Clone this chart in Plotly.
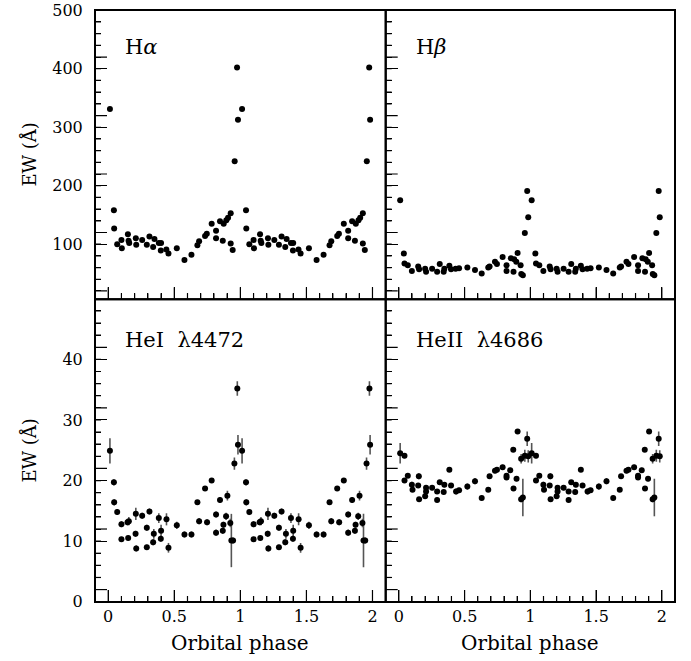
import plotly.graph_objects as go

# ---------------- data (phase 0-1; plotted twice, at phase and phase+1) ----------------
ha_phase = [0.013, 0.043, 0.045, 0.068, 0.100, 0.103, 0.149, 0.154, 0.159, 0.209, 0.212,
            0.257, 0.292, 0.312, 0.340, 0.350, 0.383, 0.398, 0.400, 0.440, 0.456, 0.519,
            0.577, 0.630, 0.675, 0.688, 0.733, 0.746, 0.783, 0.816, 0.816, 0.846, 0.867,
            0.874, 0.894, 0.907, 0.927, 0.927, 0.942, 0.957, 0.975, 0.982]
ha_ew = [331, 158, 127, 100, 107, 93, 117, 106, 102, 110, 99,
         107, 99, 113, 95, 109, 102, 89, 102, 91, 84, 93,
         73, 82, 98, 105, 114, 118, 135, 123, 110, 139, 106,
         135, 141, 145, 153, 101, 90, 242, 402, 313]

hb_phase = [0.010, 0.038, 0.043, 0.068, 0.099, 0.147, 0.154, 0.200, 0.207, 0.253, 0.291,
            0.311, 0.341, 0.346, 0.384, 0.397, 0.432, 0.458, 0.521, 0.579, 0.630, 0.680,
            0.690, 0.731, 0.746, 0.789, 0.819, 0.819, 0.852, 0.872, 0.877, 0.893, 0.903,
            0.926, 0.931, 0.943, 0.958, 0.976, 0.984]
hb_ew = [175, 84, 67, 64, 54, 62, 57, 58, 53, 58, 53,
         66, 53, 58, 63, 57, 58, 59, 60, 56, 50, 60,
         62, 70, 66, 78, 64, 54, 76, 53, 74, 70, 85,
         64, 49, 47, 119, 191, 146]

hei_phase = [0.013, 0.043, 0.045, 0.068, 0.100, 0.100, 0.146, 0.151, 0.156, 0.207, 0.209,
             0.212, 0.257, 0.292, 0.292, 0.312, 0.340, 0.345, 0.383, 0.398, 0.400, 0.441,
             0.456, 0.519, 0.577, 0.630, 0.675, 0.688, 0.733, 0.748, 0.783, 0.816, 0.816,
             0.846, 0.867, 0.872, 0.892, 0.902, 0.924, 0.932, 0.945, 0.955, 0.977, 0.982]
hei_ew = [24.9, 19.7, 16.4, 14.8, 12.8, 10.3, 13.1, 10.5, 13.3, 11.2, 14.5,
          8.8, 14.2, 12.2, 9.0, 14.9, 9.8, 11.2, 13.8, 10.4, 11.7, 13.6,
          8.9, 12.6, 11.1, 11.1, 16.4, 13.3, 18.7, 13.1, 20.0, 14.4, 11.4,
          16.8, 11.7, 12.7, 14.1, 17.5, 13.0, 10.1, 10.1, 22.8, 35.2, 25.9]
hei_err = [2.1, 0.5, 0.5, 0.5, 0.5, 0.4, 0.5, 0.4, 0.7, 0.5, 1.0,
           0.5, 0.5, 0.5, 0.4, 0.5, 0.5, 0.8, 0.8, 0.5, 1.0, 1.0,
           0.8, 0.6, 0.5, 0.5, 0.4, 0.5, 0.4, 0.5, 0.4, 0.5, 0.5,
           0.5, 0.5, 0.5, 0.6, 0.8, 0.7, 4.4, 0.5, 1.0, 1.2, 1.6]

heii_phase = [0.010, 0.043, 0.043, 0.068, 0.099, 0.104, 0.147, 0.152, 0.154, 0.200, 0.207,
              0.207, 0.253, 0.291, 0.291, 0.311, 0.341, 0.346, 0.384, 0.397, 0.435, 0.458,
              0.521, 0.579, 0.630, 0.680, 0.690, 0.731, 0.746, 0.789, 0.819, 0.819, 0.847,
              0.870, 0.872, 0.895, 0.903, 0.930, 0.930, 0.943, 0.958, 0.976, 0.984]
heii_ew = [24.5, 24.1, 20.0, 20.8, 19.3, 18.5, 19.2, 20.7, 16.9, 17.4, 18.8,
           18.2, 18.8, 18.2, 16.8, 19.7, 18.1, 19.3, 21.8, 19.2, 18.2, 18.4,
           19.0, 19.9, 17.1, 18.5, 20.7, 21.6, 21.8, 22.2, 20.8, 20.5, 21.7,
           25.1, 18.7, 20.3, 28.1, 23.6, 16.9, 17.2, 24.1, 26.9, 24.0]
heii_err = [1.7, 0.4, 0.4, 0.4, 0.5, 0.4, 0.4, 0.5, 0.4, 0.4, 0.4,
            0.5, 0.4, 0.4, 0.4, 0.4, 0.4, 0.4, 0.4, 0.4, 0.5, 0.4,
            0.5, 0.5, 0.4, 0.4, 0.4, 0.4, 0.4, 0.4, 0.4, 0.4, 0.4,
            0.4, 0.4, 0.4, 0.4, 0.8, 0.5, 3.1, 1.0, 1.2, 1.0]

panel_names = ["H<i>α</i>", "H<i>β</i>", "HeI  λ4472", "HeII  λ4686"]
x_title = "Orbital phase"
y_title = "EW (Å)"


def fold(phase, vals):
    xs, ys = [], []
    for c in (0, 1):
        for p, v in zip(phase, vals):
            if p + c <= 2.0:
                xs.append(p + c)
                ys.append(v)
    return xs, ys


FONT = "DejaVu Serif"
fig = go.Figure()

series = [
    (ha_phase, ha_ew, None, "x", "y"),
    (hb_phase, hb_ew, None, "x2", "y2"),
    (hei_phase, hei_ew, hei_err, "x3", "y3"),
    (heii_phase, heii_ew, heii_err, "x4", "y4"),
]
for ph, ew, err, xa, ya in series:
    xs, ys = fold(ph, ew)
    kw = {}
    if err is not None:
        _, es = fold(ph, err)
        kw["error_y"] = dict(type="data", array=es, visible=True, width=0,
                             thickness=1.6, color="#555555")
    fig.add_trace(go.Scatter(x=xs, y=ys, mode="markers", xaxis=xa, yaxis=ya,
                             marker=dict(size=6, color="black"), showlegend=False,
                             hoverinfo="skip", **kw))

W, H = 691, 661
ML, MR, MT, MB = 95, 16, 10, 59
SPLIT_Y = 0.5116
SPLIT_X = 0.5012
TOP = [SPLIT_Y, 1.0]
BOT = [0.0, SPLIT_Y]
LEFT = [0.0, SPLIT_X]
RIGHT = [SPLIT_X, 1.0]
X_RANGE = [-0.1, 2.1]
TOP_RANGE = [6, 500.5]
BOT_RANGE = [-0.05, 49.95]

base = dict(showgrid=False, zeroline=False, ticks="inside", ticklen=12, tickwidth=1.2,
            tickcolor="black", automargin=False, showline=True, linewidth=1,
            linecolor="black", tickfont=dict(family=FONT, size=16, color="black"))


def ax(**kw):
    d = dict(base)
    d.update(kw)
    return d


def xax(dom, anchor, labels):
    return ax(domain=dom, anchor=anchor, range=X_RANGE, dtick=0.5, tick0=0,
              showticklabels=labels,
              minor=dict(ticks="inside", ticklen=6, dtick=0.1, tick0=0, tickcolor="black"))


def yax(dom, anchor, rng, major, mdt, labels):
    return ax(domain=dom, anchor=anchor, range=rng, dtick=major, tick0=0,
              showticklabels=labels, ticksuffix="\u2002",
              minor=dict(ticks="inside", ticklen=6, dtick=mdt, tick0=0, tickcolor="black"))


fig.update_layout(
    template="none",
    width=W, height=H, showlegend=False,
    margin=dict(l=ML, r=MR, t=MT, b=MB, autoexpand=False),
    xaxis=xax(LEFT, "y", False),
    xaxis2=xax(RIGHT, "y2", False),
    xaxis3=xax(LEFT, "y3", True),
    xaxis4=xax(RIGHT, "y4", True),
    yaxis=yax(TOP, "x", TOP_RANGE, 100, 20, True),
    yaxis2=yax(TOP, "x2", TOP_RANGE, 100, 20, False),
    yaxis3=yax(BOT, "x3", BOT_RANGE, 10, 2, True),
    yaxis4=yax(BOT, "x4", BOT_RANGE, 10, 2, False),
)

# ---- tick marks also drawn as shapes at axis values (length as fraction of the panel) ----
plot_w = W - ML - MR
plot_h = H - MT - MB
panel_h = {"top": plot_h * (1 - SPLIT_Y), "bot": plot_h * SPLIT_Y}
panel_w = {"left": plot_w * SPLIT_X, "right": plot_w * (1 - SPLIT_X)}
TICK = dict(color="black", width=1.2)
shapes = []


def x_ticks(xa, ya, ph):
    for i in range(0, 21):
        v = i / 10
        n = (12 if i % 5 == 0 else 6) / ph
        shapes.append(dict(type="line", xref=xa, x0=v, x1=v, yref=ya + " domain",
                           y0=0, y1=n, line=TICK, layer="above"))


def y_ticks(xa, ya, pw, lo, hi, step, major_every):
    k = 0
    while lo + k * step <= hi:
        v = lo + k * step
        n = (12 if k % major_every == 0 else 6) / pw
        shapes.append(dict(type="line", yref=ya, y0=v, y1=v, xref=xa + " domain",
                           x0=0, x1=n, line=TICK, layer="above"))
        k += 1


x_ticks("x", "y", panel_h["top"])
x_ticks("x2", "y2", panel_h["top"])
x_ticks("x3", "y3", panel_h["bot"])
x_ticks("x4", "y4", panel_h["bot"])
y_ticks("x", "y", panel_w["left"], 20, 480, 20, 5)
y_ticks("x2", "y2", panel_w["right"], 20, 480, 20, 5)
y_ticks("x3", "y3", panel_w["left"], 2, 48, 2, 5)
y_ticks("x4", "y4", panel_w["right"], 2, 48, 2, 5)

# panel frames
for xa, ya in (("x", "y"), ("x2", "y2"), ("x3", "y3"), ("x4", "y4")):
    shapes.append(dict(type="rect", xref=xa + " domain", yref=ya + " domain",
                       x0=0, x1=1, y0=0, y1=1, line=dict(color="black", width=2),
                       fillcolor="rgba(0,0,0,0)", layer="above"))
fig.update_layout(shapes=shapes)

ann = []
for name, xr, yr, yy in [(panel_names[0], "x domain", "y domain", 0.872),
                         (panel_names[1], "x2 domain", "y2 domain", 0.872),
                         (panel_names[2], "x3 domain", "y3 domain", 0.865),
                         (panel_names[3], "x4 domain", "y4 domain", 0.865)]:
    ann.append(dict(text=name, xref=xr, yref=yr, x=0.098, y=yy, xanchor="left",
                    yanchor="middle", showarrow=False,
                    font=dict(family=FONT, size=21, color="black")))
for xr in ("x3 domain", "x4 domain"):
    ann.append(dict(text=x_title, xref=xr, yref="paper", x=0.5, y=-0.07,
                    xanchor="center", yanchor="middle", showarrow=False,
                    font=dict(family=FONT, size=20, color="black")))
for yr in ("y domain", "y3 domain"):
    ann.append(dict(text=y_title, xref="paper", yref=yr, x=-0.112, y=0.5,
                    xanchor="center", yanchor="middle", textangle=-90, showarrow=False,
                    font=dict(family=FONT, size=18, color="black")))
fig.update_layout(annotations=ann)

fig.write_html("out.html", config={"displayModeBar": False},
               post_script="document.body.style.margin='0';")
